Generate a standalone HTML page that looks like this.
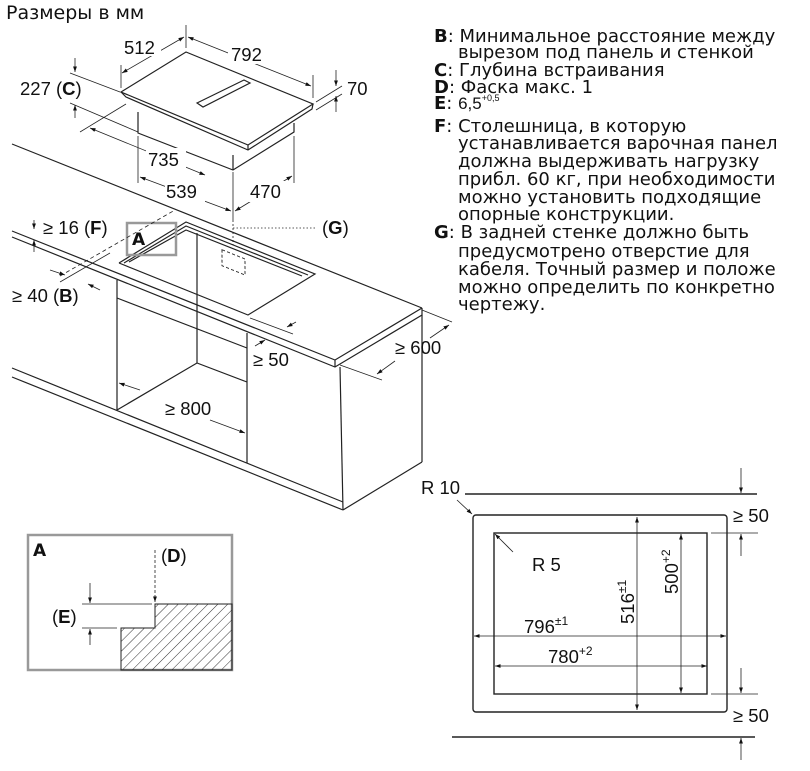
<!DOCTYPE html>
<html><head><meta charset="utf-8"><style>
body{margin:0;background:#fff}
svg{display:block}
text{font-family:"DejaVu Sans","Liberation Sans",sans-serif;fill:#111}
.n{font-family:"Liberation Sans",sans-serif;font-size:18.5px}
</style></head><body>
<svg width="810" height="771" viewBox="0 0 810 771" xmlns="http://www.w3.org/2000/svg">
<defs>
<marker id="a" viewBox="0 0 10 10" refX="10" refY="5" markerWidth="7" markerHeight="7" orient="auto-start-reverse"><path d="M0,1.5 L10,5 L0,8.5z" fill="#111"/></marker>
<pattern id="h" width="7" height="7" patternUnits="userSpaceOnUse" patternTransform="rotate(45)"><line x1="0" y1="0" x2="0" y2="7" stroke="#333" stroke-width="1"/></pattern>
<clipPath id="tc"><rect x="420" y="0" width="356" height="330"/></clipPath>
</defs>
<text x="6" y="19" style="font-size:19px">Размеры в мм</text>

<g stroke="#222" stroke-width="1.2" fill="none">
<path d="M121,92 L186,52 L313,104 L248,145 Z" fill="#fff"/>
<path d="M121,92 L126,97 L248,150 L312,109 L313,104"/>
<path d="M248,145 L248,150"/>
<path d="M138,112 L138,133 L233,170 L294,132 L294,123"/>
<path d="M233,155 L233,170"/>
<path d="M197,103 L244,80 L250,83 L203,107 Z"/>
</g>
<g stroke="#222" stroke-width="0.8" fill="none">
<line x1="186" y1="25" x2="186" y2="48"/>
<line x1="121" y1="88" x2="121" y2="65"/>
<line x1="122" y1="73" x2="184" y2="37" marker-start="url(#a)" marker-end="url(#a)"/>
<line x1="313" y1="98" x2="313" y2="75"/>
<line x1="188" y1="37" x2="311" y2="86" marker-start="url(#a)" marker-end="url(#a)"/>
<line x1="70" y1="73" x2="120" y2="92"/>
<line x1="70" y1="103" x2="138" y2="132"/>
<line x1="75" y1="58" x2="75" y2="72" marker-end="url(#a)"/>
<line x1="75" y1="118" x2="75" y2="105" marker-end="url(#a)"/>
<line x1="316" y1="102" x2="342" y2="86"/>
<line x1="316" y1="110" x2="342" y2="94"/>
<line x1="336" y1="70" x2="336" y2="86" marker-end="url(#a)"/>
<line x1="336" y1="112" x2="336" y2="96" marker-end="url(#a)"/>
<line x1="80" y1="132" x2="126" y2="104"/>
<line x1="90" y1="128" x2="205" y2="175" marker-start="url(#a)" marker-end="url(#a)"/>
<line x1="138" y1="136" x2="138" y2="183"/>
<line x1="294" y1="136" x2="294" y2="183"/>
<line x1="233" y1="172" x2="233" y2="220"/>
<line x1="140" y1="177" x2="231" y2="211" marker-start="url(#a)" marker-end="url(#a)"/>
<line x1="235" y1="211" x2="292" y2="176" marker-start="url(#a)" marker-end="url(#a)"/>
</g>
<rect x="123" y="36" width="38" height="20" fill="#fff"/>
<text class="n" x="124" y="54">512</text>
<rect x="228" y="44" width="46" height="20" fill="#fff"/>
<text class="n" x="231" y="61">792</text>
<text class="n" x="20" y="95">227 (<tspan font-weight="bold">C</tspan>)</text>
<text class="n" x="347" y="95">70</text>
<rect x="146" y="148" width="40" height="21" fill="#fff"/>
<text class="n" x="148" y="166">735</text>
<rect x="165" y="181" width="40" height="21" fill="#fff"/>
<text class="n" x="166" y="198">539</text>
<rect x="248" y="181" width="40" height="21" fill="#fff"/>
<text class="n" x="250" y="198">470</text>

<g stroke="#222" stroke-width="1.2" fill="none">
<line x1="12" y1="144" x2="422" y2="308"/>
<path d="M12,231 L335,360 L422,308"/>
<path d="M12,237 L335,367 L340,364 L422,315 L422,308"/>
<line x1="335" y1="360" x2="335" y2="367"/>
<line x1="340" y1="367" x2="343" y2="510"/>
<line x1="422" y1="315" x2="422" y2="462"/>
<line x1="343" y1="510" x2="422" y2="462"/>
<line x1="12" y1="368" x2="343" y2="502"/>
<line x1="12" y1="377" x2="343" y2="510"/>
<line x1="117" y1="280" x2="117" y2="410"/>
<line x1="247" y1="333" x2="247" y2="463"/>
<line x1="197" y1="233" x2="197" y2="363"/>
<path d="M117,410 L197,363 L247,382"/>
<line x1="117" y1="298" x2="247" y2="348"/>
<path d="M119,263 L186,222 L315,274 L248,315 L119,263"/>
<path d="M124,263 L186,226 L308,275"/>
<path d="M129,262 L186,230 L302,276"/>
</g>
<rect x="127" y="223" width="49" height="32" fill="none" stroke="#999" stroke-width="2.5"/>
<text x="132" y="245" style="font-size:17px;font-weight:bold">A</text>
<rect x="222" y="250" width="23" height="16" fill="none" stroke="#333" stroke-dasharray="3,2" transform="skewY(22) translate(0,-90)"/>
<g stroke="#222" stroke-width="0.8" fill="none">
<line x1="233" y1="220" x2="233" y2="245" stroke-dasharray="2,2"/>
<line x1="233" y1="228" x2="317" y2="228" stroke-dasharray="1.5,2"/>
<line x1="60" y1="276" x2="175" y2="210" stroke-dasharray="4,3"/>
<line x1="34" y1="220" x2="34" y2="229" marker-end="url(#a)"/>
<line x1="34" y1="252" x2="34" y2="240" marker-end="url(#a)"/>
<line x1="50" y1="270" x2="65" y2="275" marker-end="url(#a)"/>
<line x1="100" y1="290" x2="88" y2="284" marker-end="url(#a)"/>
<line x1="60" y1="282" x2="110" y2="253"/>
<line x1="250" y1="318" x2="293" y2="334"/>
<line x1="296" y1="322" x2="287" y2="327" marker-end="url(#a)"/>
<line x1="255" y1="346" x2="265" y2="340" marker-end="url(#a)"/>
<line x1="340" y1="365" x2="382" y2="380"/>
<line x1="422" y1="310" x2="452" y2="322"/>
<line x1="430" y1="338" x2="449" y2="325" marker-end="url(#a)"/>
<line x1="395" y1="361" x2="377" y2="374" marker-end="url(#a)"/>
<line x1="140" y1="390" x2="119" y2="383" marker-end="url(#a)"/>
<line x1="210" y1="420" x2="245" y2="433" marker-end="url(#a)"/>
</g>
<text class="n" x="43" y="234">≥ 16 (<tspan font-weight="bold">F</tspan>)</text>
<text class="n" x="322" y="234">(<tspan font-weight="bold">G</tspan>)</text>
<text class="n" x="12" y="302">≥ 40 (<tspan font-weight="bold">B</tspan>)</text>
<text class="n" x="253" y="366">≥ 50</text>
<text class="n" x="395" y="354">≥ 600</text>
<text class="n" x="165" y="415">≥ 800</text>

<rect x="28" y="535" width="204" height="135" fill="#fff" stroke="#999" stroke-width="2.5"/>
<path d="M155,604 L232,604 L232,670 L121,670 L121,628 L155,628 Z" fill="url(#h)" stroke="#222" stroke-width="1"/>
<g stroke="#222" stroke-width="0.8" fill="none">
<line x1="82" y1="604" x2="152" y2="604"/>
<line x1="82" y1="628" x2="117" y2="628"/>
<line x1="90" y1="583" x2="90" y2="603" marker-end="url(#a)"/>
<line x1="90" y1="645" x2="90" y2="629" marker-end="url(#a)"/>
<line x1="155" y1="550" x2="155" y2="602" stroke-dasharray="3,2" marker-end="url(#a)"/>
</g>
<text x="33" y="556" style="font-size:17px;font-weight:bold">A</text>
<text class="n" x="161" y="562">(<tspan font-weight="bold">D</tspan>)</text>
<text class="n" x="52" y="623">(<tspan font-weight="bold">E</tspan>)</text>

<g stroke="#222" fill="none">
<line x1="465" y1="494" x2="757" y2="494" stroke-width="1.6"/>
<line x1="452" y1="737" x2="755" y2="737" stroke-width="1.6"/>
<rect x="473" y="515" width="254" height="197" rx="3" stroke-width="1.4"/>
<rect x="494" y="533" width="213" height="161" stroke-width="1.4"/>
<g stroke-width="0.8">
<line x1="711" y1="533" x2="758" y2="533"/>
<line x1="711" y1="694" x2="758" y2="694"/>
<line x1="741" y1="468" x2="741" y2="493" marker-end="url(#a)"/>
<line x1="741" y1="556" x2="741" y2="534" marker-end="url(#a)"/>
<line x1="741" y1="668" x2="741" y2="693" marker-end="url(#a)"/>
<line x1="741" y1="760" x2="741" y2="738" marker-end="url(#a)"/>
<line x1="637" y1="517" x2="637" y2="710" marker-start="url(#a)" marker-end="url(#a)"/>
<line x1="681" y1="534" x2="681" y2="693" marker-start="url(#a)" marker-end="url(#a)"/>
<line x1="474" y1="636" x2="726" y2="636" marker-start="url(#a)" marker-end="url(#a)"/>
<line x1="495" y1="666" x2="707" y2="666" marker-start="url(#a)" marker-end="url(#a)"/>
<line x1="457" y1="500" x2="472" y2="514" marker-end="url(#a)"/>
<line x1="513" y1="552" x2="495" y2="534" marker-end="url(#a)"/>
</g></g>
<text class="n" x="421" y="494">R 10</text>
<text class="n" x="532" y="571">R 5</text>
<text class="n" x="524" y="633">796<tspan font-size="12" dy="-8">±1</tspan></text>
<text class="n" x="548" y="663">780<tspan font-size="12" dy="-8">+2</tspan></text>
<text class="n" transform="translate(634,624) rotate(-90)">516<tspan font-size="12" dy="-8">±1</tspan></text>
<text class="n" transform="translate(678,594) rotate(-90)">500<tspan font-size="12" dy="-8">+2</tspan></text>
<text class="n" x="733" y="522">≥ 50</text>
<text class="n" x="733" y="722">≥ 50</text>

<g clip-path="url(#tc)" style="font-size:18px">
<text x="434" y="42"><tspan font-weight="bold">B</tspan>: Минимальное расстояние между</text>
<text x="458" y="58">вырезом под панель и стенкой</text>
<text x="434" y="76"><tspan font-weight="bold">C</tspan>: Глубина встраивания</text>
<text x="434" y="93"><tspan font-weight="bold">D</tspan>: Фаска макс. 1</text>
<text x="434" y="109"><tspan font-weight="bold">E</tspan>: <tspan font-family="Liberation Sans" font-size="17">6,5</tspan><tspan font-size="9" dy="-8" font-family="Liberation Sans">+0,5</tspan></text>
<text x="434" y="132"><tspan font-weight="bold">F</tspan>: Столешница, в которую</text>
<text x="458" y="149">устанавливается варочная панель,</text>
<text x="458" y="167">должна выдерживать нагрузку</text>
<text x="458" y="185">прибл. 60 кг, при необходимости</text>
<text x="458" y="203">можно установить подходящие</text>
<text x="458" y="220">опорные конструкции.</text>
<text x="434" y="238"><tspan font-weight="bold">G</tspan>: В задней стенке должно быть</text>
<text x="458" y="257">предусмотрено отверстие для</text>
<text x="458" y="275">кабеля. Точный размер и положение</text>
<text x="458" y="293">можно определить по конкретному</text>
<text x="458" y="310">чертежу.</text>
</g>
</svg>
</body></html>
